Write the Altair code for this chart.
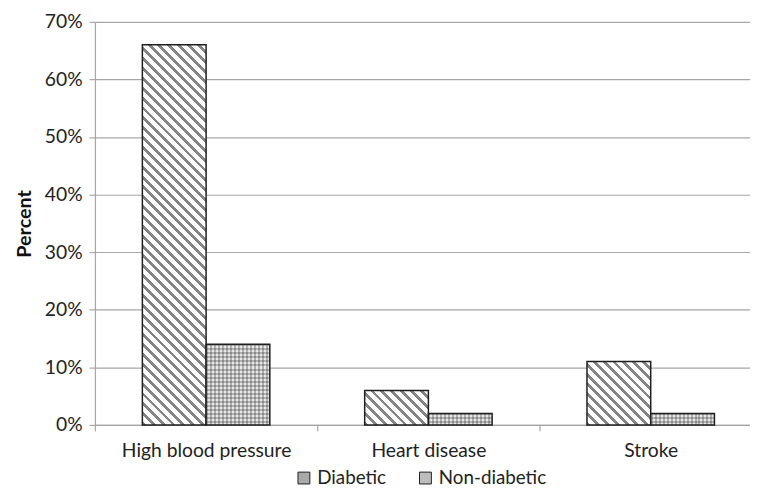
import altair as alt
import pandas as pd

# ---- data ----
categories = ["High blood pressure", "Heart disease", "Stroke"]
groups = ["Diabetic", "Non-diabetic"]
diabetic_pct = [66, 6, 11]
non_diabetic_pct = [14, 2, 2]
y_tick_values = [0, 10, 20, 30, 40, 50, 60, 70]

rows = []
for c, d, n in zip(categories, diabetic_pct, non_diabetic_pct):
    rows.append({"category": c, "group": groups[0], "value": d / 100})
    rows.append({"category": c, "group": groups[1], "value": n / 100})
df = pd.DataFrame(rows)

# ---- layout ----
W, H = 663, 408          # plot area
X_RANGE = 675            # band range (extends past right edge like the reference crop)
Y_MAX = 0.70
STEP = X_RANGE / len(categories)
BAR_W = 64.5
OFF_PAD = (STEP / BAR_W - 2) / 2

FONT = "Lato"
GRID = "#a6a6a6"
TEXT = "#222222"
EDGE = "#1e1e1e"


def bar_h(v):
    return v / Y_MAX * H


def diag_gradient(w, h, period=10.0, frac=0.40, dark="#858585", light="#ffffff"):
    k = (w + h) / (w * w + h * h)
    n = max(1, round((w + h) / period))
    stops = []
    for i in range(n):
        a, b, c = i / n, (i + frac) / n, (i + 1) / n
        stops += [
            {"offset": round(a, 5), "color": dark},
            {"offset": round(b, 5), "color": dark},
            {"offset": round(b, 5), "color": light},
            {"offset": round(c, 5), "color": light},
        ]
    return {"gradient": "linear", "x1": 0, "y1": 1,
            "x2": round(k * w, 6), "y2": round(1 - k * h, 6), "stops": stops}


def straight_gradient(length, vertical, period=4.0, frac=0.5, c1="#9c9c9c", c2="#e2e2e2"):
    n = max(1, round(length / period))
    stops = []
    for i in range(n):
        a, b, c = i / n, (i + frac) / n, (i + 1) / n
        stops += [
            {"offset": round(a, 5), "color": c1},
            {"offset": round(b, 5), "color": c1},
            {"offset": round(b, 5), "color": c2},
            {"offset": round(c, 5), "color": c2},
        ]
    if vertical:
        return {"gradient": "linear", "x1": 0, "y1": 0, "x2": 0, "y2": 1, "stops": stops}
    return {"gradient": "linear", "x1": 0, "y1": 0, "x2": 1, "y2": 0, "stops": stops}


x_enc = alt.X(
    "category:N",
    sort=categories,
    scale=alt.Scale(domain=categories, range=[0, X_RANGE], paddingInner=0, paddingOuter=0),
    axis=alt.Axis(
        title=None, tickBand="extent", grid=False, labelAngle=0,
        domainColor=GRID, domainWidth=1.2, tickColor=GRID, tickWidth=1.2, tickSize=6,
        labelFont=FONT, labelFontSize=19.5, labelColor=TEXT, labelPadding=11,
    ),
)
xoff_enc = alt.XOffset(
    "group:N", sort=groups,
    scale=alt.Scale(domain=groups, paddingInner=0, paddingOuter=OFF_PAD),
)
y_enc = alt.Y(
    "value:Q",
    scale=alt.Scale(domain=[0, Y_MAX], nice=False, zero=True),
    axis=alt.Axis(
        values=[v / 100 for v in y_tick_values], format=".0%",
        grid=True, gridColor=GRID, gridWidth=1.2,
        domainColor=GRID, domainWidth=1.2, tickColor=GRID, tickWidth=1.2, tickSize=6,
        labelFont=FONT, labelFontSize=19.5, labelColor=TEXT, labelPadding=7,
        title="Percent", titleFont=FONT, titleFontSize=20, titleFontWeight="bold",
        titleColor="#111111", titlePadding=10,
    ),
)

base = alt.Chart(df).encode(x=x_enc, xOffset=xoff_enc, y=y_enc)

layers = []
# diabetic: diagonal hatch, one gradient per bar (depends on bar height)
for c, d in zip(categories, diabetic_pct):
    g = diag_gradient(BAR_W, bar_h(d / 100))
    layers.append(
        base.transform_filter(
            (alt.datum.category == c) & (alt.datum.group == groups[0])
        ).mark_bar(fill=g, stroke=EDGE, strokeWidth=1.5)
    )

# non-diabetic: fine cross-hatch = vertical stripes + horizontal overlay
layers.append(
    base.transform_filter(alt.datum.group == groups[1]).mark_bar(
        fill=straight_gradient(BAR_W, vertical=False), strokeWidth=0
    )
)
for c, n in zip(categories, non_diabetic_pct):
    g = straight_gradient(bar_h(n / 100), vertical=True,
                          c1="rgba(110,110,110,0.40)", c2="rgba(255,255,255,0.20)")
    layers.append(
        base.transform_filter(
            (alt.datum.category == c) & (alt.datum.group == groups[1])
        ).mark_bar(fill=g, stroke=EDGE, strokeWidth=1.5)
    )

# legend only layer (no data rows)
legend_layer = base.transform_filter("false").mark_bar(stroke=EDGE, strokeWidth=1).encode(
    color=alt.Color(
        "group:N",
        scale=alt.Scale(domain=groups, range=["#a9a9a9", "#bdbdbd"]),
        legend=alt.Legend(
            title=None, orient="none", legendX=202, legendY=452, direction="horizontal",
            symbolType="square", symbolSize=144, symbolStrokeColor=EDGE, symbolStrokeWidth=1,
            labelFont=FONT, labelFontSize=19, labelColor=TEXT, labelOffset=4,
            columnPadding=30, padding=0,
        ),
    )
)
layers.append(legend_layer)

chart = alt.layer(*layers).properties(
    width=W, height=H,
    autosize=alt.AutoSizeParams(type="none"),
    padding={"left": 88, "top": 11, "right": 0, "bottom": 75},
).configure_view(stroke=None)

chart.save("out.html", embed_options={"renderer": "svg", "actions": False})
